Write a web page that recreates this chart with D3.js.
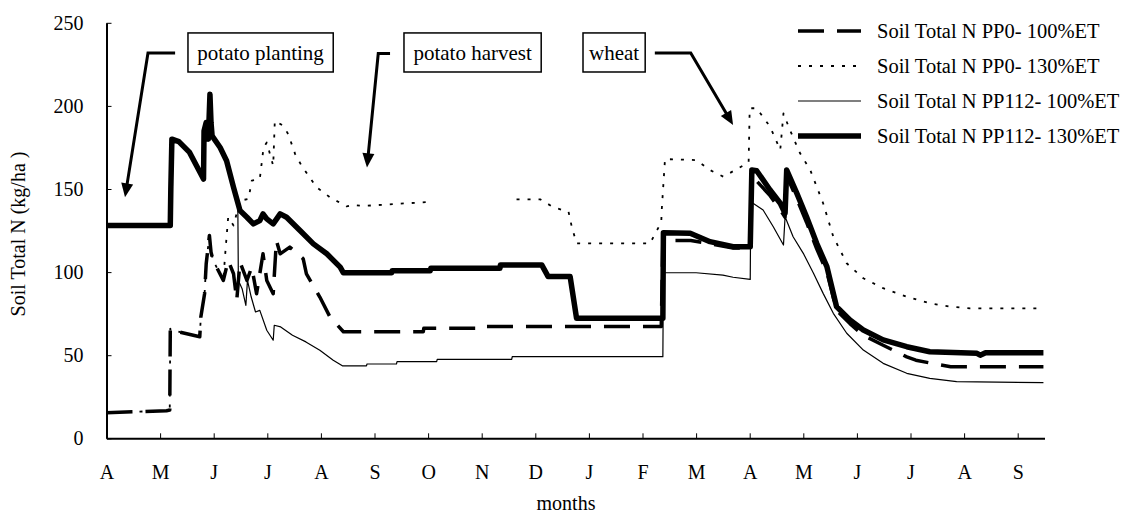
<!DOCTYPE html>
<html>
<head>
<meta charset="utf-8">
<script src="https://cdn.jsdelivr.net/npm/d3@7"></script>
<style>
body{margin:0;background:#fff}
text{font-family:"Liberation Serif",serif;fill:#000}
</style>
</head>
<body>
<div id="chart"></div>
<script>
// month labels, April of year 1 to September of year 2
const months = ["A","M","J","J","A","S","O","N","D","J","F","M","A","M","J","J","A","S"];
const yTicks = [0,50,100,150,200,250];

const seriesNames = ["Soil Total N PP0- 100%ET","Soil Total N PP0- 130%ET","Soil Total N PP112- 100%ET","Soil Total N PP112- 130%ET"];

// [months since 1 April, kg/ha]
const pp0_100 = [[0,15.4],[1.12,16.6],[1.18,17],[1.19,66],[1.2,65.2],[1.74,61.1],[1.76,73],[1.83,87],[1.86,105],[1.92,122],[1.95,112],[1.99,107],[2.18,95],[2.27,107],[2.37,99],[2.43,83],[2.49,106],[2.62,95],[2.71,103],[2.8,87],[2.92,111],[2.99,95],[3.11,87],[3.17,119],[3.24,111],[3.42,115],[3.67,108],[3.73,99],[3.98,85],[4.17,73],[4.42,64.1],[5.91,64.1],[5.92,66.2],[7.03,66.2],[7.04,67.2],[10.35,67.2],[10.38,119],[10.9,119],[11.26,117],[11.69,114.5],[12.01,114.5],[12.04,158],[12.38,146],[12.6,136],[12.66,133],[12.69,158],[12.88,144],[13.06,130],[13.25,114],[13.44,100],[13.62,77],[13.87,69],[14.12,62],[14.49,56],[14.93,49],[15.1,47],[15.5,44.5],[15.75,43.1],[17.48,43.1]];

const pp0_130 = [[0,15.4],[1.12,16.6],[1.18,17],[1.19,66],[1.2,65.2],[1.74,61.1],[1.76,73],[1.83,87],[1.86,105],[1.92,122],[1.95,112],[1.99,107],[2.18,95],[2.21,109],[2.27,133],[2.37,128],[2.49,143],[2.65,144],[2.71,155],[2.86,156],[2.93,175],[2.99,178],[3.11,164],[3.14,191],[3.3,188],[3.39,183],[3.52,171],[3.64,164],[3.92,151],[4.17,145],[4.48,139.5],[4.6,140.4],[4.8,139.8],[5.4,141],[6.1,142.4],[6.8,null],[7.65,143.8],[8.09,143.8],[8.34,139],[8.62,136.3],[8.68,127.3],[8.77,117.3],[10.14,117.3],[10.35,130],[10.36,138],[10.42,168],[11.0,167.4],[11.26,161.4],[11.51,157.4],[11.98,166],[12.0,198.6],[12.13,198.6],[12.38,187.5],[12.57,173.5],[12.63,195.5],[12.75,185.5],[12.94,171.5],[13.13,161.4],[13.37,141.4],[13.56,121.3],[13.81,105.3],[14.12,96.3],[14.49,90.3],[14.93,85.2],[15.36,81.2],[15.74,79.2],[16.11,78.2],[17.35,78.2]];

const pp112_100 = [[0,128],[1.19,128],[1.2,150],[1.22,180],[1.35,178.5],[1.55,172],[1.68,164],[1.81,156],[1.82,185],[1.86,190],[1.9,180],[1.93,207],[1.95,190],[1.97,182],[2.12,175],[2.24,167],[2.37,151],[2.45,140],[2.46,95],[2.53,90],[2.6,80],[2.63,95],[2.7,85],[2.78,76],[2.86,77],[2.99,65],[3.11,59],[3.13,68],[3.25,67],[3.47,62],[3.72,58],[3.98,53],[4.23,47],[4.4,43.6],[4.85,43.6],[4.86,44.7],[5.41,44.7],[5.42,46.1],[6.16,46.1],[6.17,47.5],[7.56,47.5],[7.57,49.1],[10.38,49.1],[10.39,99.6],[11.0,99.6],[11.5,98.2],[11.69,96.9],[12.01,95.6],[12.02,142.4],[12.25,137.4],[12.44,127.3],[12.63,116.3],[12.66,133.3],[12.81,121.3],[13.0,111.3],[13.19,99.3],[13.37,87.2],[13.56,75.2],[13.81,63.2],[14.12,53.1],[14.49,45.1],[14.93,39.1],[15.36,36.1],[15.86,34.1],[17.48,33.5]];

const pp112_130 = [[0,128],[1.19,128],[1.2,150],[1.22,180],[1.35,178.5],[1.55,172],[1.68,164],[1.81,156],[1.82,185],[1.86,190],[1.9,180],[1.93,207],[1.95,190],[1.97,182],[2.12,175],[2.24,167],[2.37,151],[2.49,137],[2.62,133],[2.74,129],[2.86,131],[2.92,135],[2.99,132],[3.11,129],[3.24,135],[3.36,133],[3.61,125],[3.86,117],[4.11,111],[4.36,103],[4.42,99.6],[5.32,99.6],[5.33,100.8],[6.04,100.8],[6.05,102.3],[7.34,102.3],[7.35,104.3],[8.12,104.3],[8.24,97.3],[8.65,97.3],[8.77,72.2],[10.38,72.2],[10.39,123.7],[10.89,123.4],[11.26,118.3],[11.69,115.3],[12.01,115.3],[12.04,161.4],[12.13,161],[12.38,149.4],[12.57,141.4],[12.66,135.4],[12.69,161.4],[12.88,147.4],[13.06,133.3],[13.25,117.3],[13.44,103.3],[13.62,79.2],[13.87,71.2],[14.12,65.2],[14.49,59.2],[14.93,55.1],[15.36,52.1],[16.24,51.1],[16.3,50],[16.4,51.5],[17.48,51.5]];

// crop stage notes: label, box span (months), arrow path (months, kg/ha)
const notes = ["potato planting","potato harvest","wheat"];
const noteSpans = [[1.52,4.23],[5.55,8.11],[8.89,10.05]];
const noteArrows = [
  [[1.28,231.8],[0.774,231.8],[0.345,145]],
  [[5.29,231.5],[5.07,231.5],[4.86,163]],
  [[10.23,231.8],[10.9,231.8],[11.69,188.5]]
];

const width = 1131, height = 513;

const svg = d3.select("#chart").append("svg")
  .attr("width", width)
  .attr("height", height)

const x = d3.scaleLinear().domain([0,17.5]).range([106.5,1044.5])
const y = d3.scaleLinear().domain([0,250]).range([438.3,22.8])

// axes, ticks pointing inward
svg.append("g")
  .attr("transform","translate(0,438.3)")
  .call(d3.axisBottom(x).tickValues(d3.range(months.length)).tickFormat(i=>months[i]).tickSize(-5).tickSizeOuter(0).tickPadding(27))
  .call(g=>g.select(".domain").attr("stroke-width",2))
  .call(g=>g.selectAll("text").attr("font-size",20).attr("font-family","Liberation Serif"))

svg.append("g")
  .attr("transform","translate(106.5,0)")
  .call(d3.axisLeft(y).tickValues(yTicks).tickSize(-5).tickSizeOuter(0).tickPadding(23))
  .call(g=>g.select(".domain").attr("stroke-width",2))
  .call(g=>g.selectAll("text").attr("font-size",20).attr("font-family","Liberation Serif"))

svg.append("text")
  .attr("transform","rotate(-90)")
  .attr("x",-234).attr("y",25)
  .attr("text-anchor","middle")
  .attr("font-size",20)
  .text("Soil Total N (kg/ha )")

svg.append("text")
  .attr("x",566).attr("y",510)
  .attr("text-anchor","middle")
  .attr("font-size",20)
  .text("months")

const line = d3.line()
  .defined(d=>d[1]!=null)
  .x(d=>x(d[0]))
  .y(d=>y(d[1]))

const styles = [
  {w:3.5, dash:"26,13"},
  {w:1.8, dash:"3,8"},
  {w:1.2, dash:null},
  {w:5.5, dash:null}
]
const allSeries = [pp0_100, pp0_130, pp112_100, pp112_130]

svg.append("g")
  .selectAll("path")
  .data(allSeries)
  .enter()
  .append("path")
  .attr("d",line)
  .attr("fill","none")
  .attr("stroke","#000")
  .attr("stroke-width",(_,i)=>styles[i].w)
  .attr("stroke-dasharray",(_,i)=>styles[i].dash)
  .attr("stroke-linejoin","round")

/* legend */
const leg = svg.append("g")
  .selectAll("g")
  .data(seriesNames)
  .enter()
  .append("g")
  .attr("transform",(_,i)=>`translate(0,${31+i*35})`)

leg.append("line")
  .attr("x1",798).attr("x2",861)
  .attr("stroke","#000")
  .attr("stroke-width",(_,i)=>styles[i].w)
  .attr("stroke-dasharray",(_,i)=>styles[i].dash)

leg.append("text")
  .attr("x",877).attr("dy","0.35em")
  .attr("font-size",20.5)
  .text(d=>d)

/* notes with arrows */
const ng = svg.append("g")
notes.forEach((t,i)=>{
  const [a,b] = noteSpans[i]
  ng.append("rect")
    .attr("x",x(a)).attr("y",y(243.9))
    .attr("width",x(b)-x(a)).attr("height",y(220.4)-y(243.9))
    .attr("fill","#fff").attr("stroke","#000").attr("stroke-width",1.5)
  ng.append("text")
    .attr("x",(x(a)+x(b))/2).attr("y",y(232)).attr("dy","0.33em")
    .attr("text-anchor","middle")
    .attr("font-size",21)
    .text(t)

  const pts = noteArrows[i].map(p=>[x(p[0]),y(p[1])])
  const tip = pts[pts.length-1], prev = pts[pts.length-2]
  const dx = tip[0]-prev[0], dy = tip[1]-prev[1], len = Math.hypot(dx,dy)
  const ux = dx/len, uy = dy/len, L = 14, W = 12
  const shaft = pts.slice(0,-1).concat([[tip[0]-ux*L*0.7, tip[1]-uy*L*0.7]])
  ng.append("path")
    .attr("d",d3.line()(shaft))
    .attr("fill","none").attr("stroke","#000").attr("stroke-width",3)
  const bx = tip[0]-ux*L, by = tip[1]-uy*L
  ng.append("path")
    .attr("d",d3.line()([tip,[bx-uy*W/2,by+ux*W/2],[bx+uy*W/2,by-ux*W/2]])+"Z")
    .attr("fill","#000")
})
</script>
</body>
</html>
